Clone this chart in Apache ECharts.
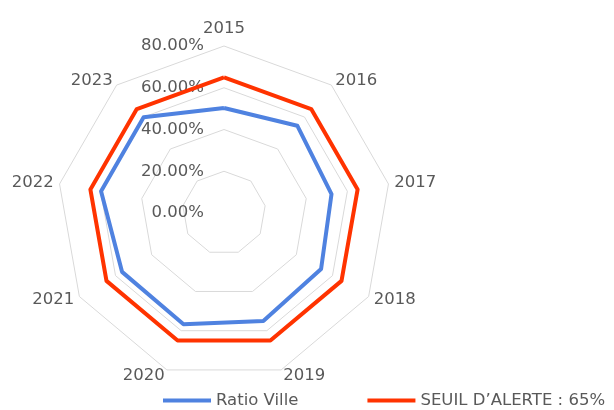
<!DOCTYPE html>
<html>
<head>
<meta charset="utf-8">
<title>Ratio Ville</title>
<script src="https://cdn.jsdelivr.net/npm/echarts@6/dist/echarts.min.js"></script>
<style>
	html, body { margin: 0; padding: 0; background: #fff; }
	#main { width: 614px; height: 410px; }
</style>
</head>
<body>
<div id="main"></div>
<script>
	// années (axes du radar)
	var years = ['2015', '2016', '2017', '2018', '2019', '2020', '2021', '2022', '2023']
	// valeurs en %
	var ratioVille = [50.3, 54.6, 52.3, 53.7, 55.1, 56.7, 56.4, 59.8, 59.9]
	var seuilAlerte = [65, 65, 65, 65, 65, 65, 65, 65, 65]
	var seriesNames = ['Ratio Ville', 'SEUIL D\u2019ALERTE : 65%']
	var axisMax = 80

	var textColor = '#595959'
	var font = 'DejaVu Sans'

	// echarts tourne dans le sens inverse des aiguilles d'une montre,
	// on garde 2015 en haut et on inverse le reste pour tourner comme Excel
	var order = [0]
	for (var k = years.length - 1; k > 0; k--) order.push(k)
	function reorder(arr) {
		return order.map(function (i) { return arr[i] })
	}

	var indicator = reorder(years).map(function (y, i) {
		var ind = { name: y, min: 0, max: axisMax }
		// seulement le premier axe porte les graduations
		if (i === 0) {
			ind.axisLabel = {
				show: true,
				color: textColor,
				fontFamily: font,
				fontSize: 16.5,
				margin: 20,
				formatter: function (v) {
					return v.toFixed(2) + '%'
				}
			}
		}
		return ind
	})

	var option = {
		animation: false,
		legend: {
			top: 387,
			left: 158,
			itemGap: 69,
			itemWidth: 48,
			itemHeight: 4,
			icon: 'rect',
			textStyle: {
				color: textColor,
				fontFamily: font,
				fontSize: 16.5
			},
			data: seriesNames
		},
		radar: {
			center: [224, 213],
			radius: 167,
			startAngle: 90,
			splitNumber: 4,
			shape: 'polygon',
			indicator: indicator,
			axisName: {
				color: textColor,
				fontFamily: font,
				fontSize: 16.5
			},
			nameGap: 6,
			axisLine: { show: false },
			axisTick: { show: false },
			axisLabel: { show: false },
			splitArea: { show: false },
			splitLine: {
				lineStyle: { color: '#d9d9d9', width: 1 }
			}
		},
		series: [{
			type: 'radar',
			symbol: 'none',
			data: [{
					name: seriesNames[0],
					value: reorder(ratioVille),
					lineStyle: { color: '#4f82e0', width: 4 },
					itemStyle: { color: '#4f82e0' }
				},
				{
					name: seriesNames[1],
					value: reorder(seuilAlerte),
					lineStyle: { color: '#ff3300', width: 4 },
					itemStyle: { color: '#ff3300' }
				}
			]
		}]
	}

	var chart = echarts.init(document.getElementById('main'))
	chart.setOption(option)
</script>
</body>
</html>
